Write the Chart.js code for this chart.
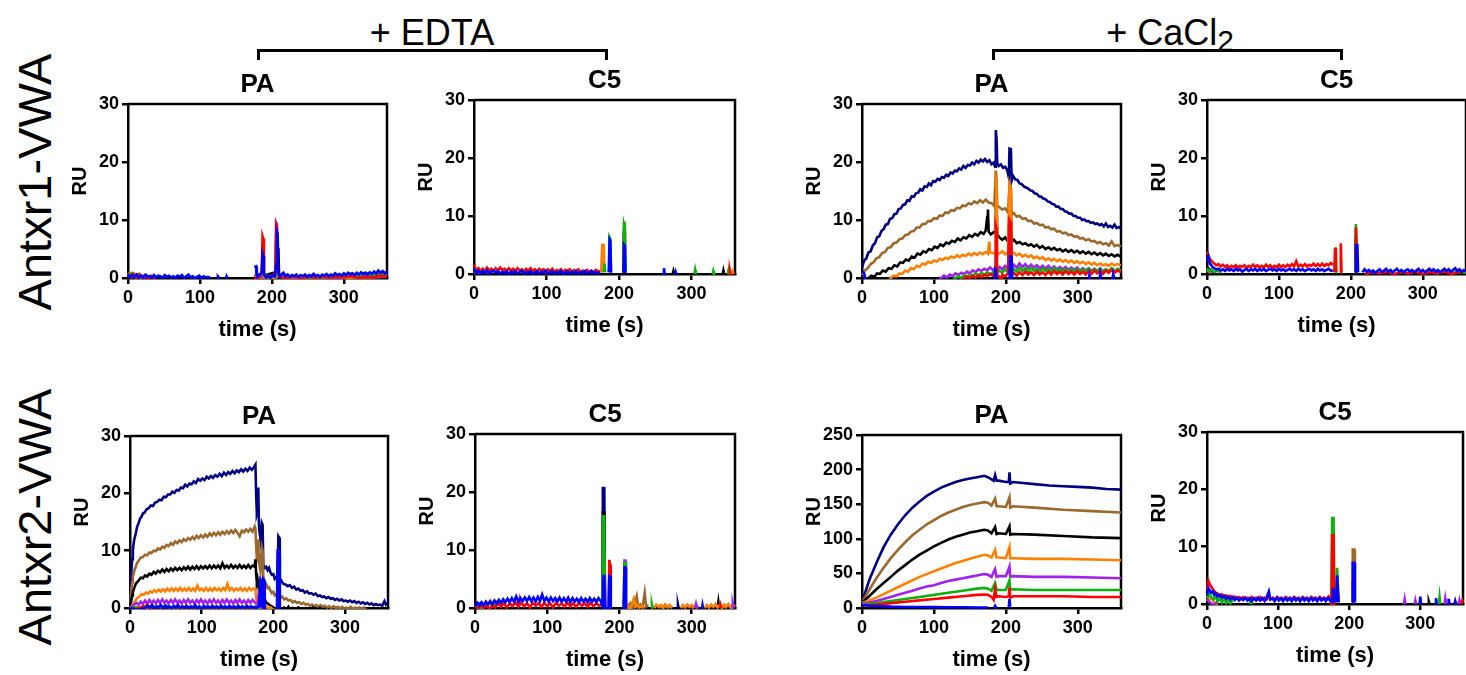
<!DOCTYPE html>
<html>
<head>
<meta charset="utf-8">
<script src="https://cdn.jsdelivr.net/npm/chart.js@4.4.1/dist/chart.umd.min.js"></script>
<style>
  body { margin: 0; background: #fff; width: 1466px; height: 675px; overflow: hidden; position: relative;
         font-family: 'Liberation Sans', Arial, sans-serif; color: #000; }
  .pane { position: absolute; }
  .rowlabel { position: absolute; width: 320px; height: 56px; line-height: 56px; text-align: center;
              font-size: 47px; transform: rotate(-90deg); white-space: nowrap; }
  .group { position: absolute; width: 300px; height: 44px; line-height: 44px; text-align: center; font-size: 36px; white-space: nowrap; }
  .group sub { font-size: 30px; vertical-align: -6px; }
  .bracket { position: absolute; height: 11px; box-sizing: border-box; border: 3px solid #000; border-bottom: none; }
</style>
</head>
<body>
<div class="rowlabel" style="left:-125px; top:154px;">Antxr1-VWA</div>
<div class="rowlabel" style="left:-125px; top:489px;">Antxr2-VWA</div>
<div class="group" style="left:282px; top:11px;">+ EDTA</div>
<div class="group" style="left:1020px; top:11px;">+ CaCl<sub>2</sub></div>
<div class="bracket" style="left:257px; top:49px; width:351px;"></div>
<div class="bracket" style="left:992px; top:49px; width:351px;"></div>

<script>
// series colours, first one is drawn on top
var seriesNames = ['blue', 'red', 'green', 'purple', 'orange', 'black', 'brown', 'navy'];
var seriesColors = ['#0000ff', '#ff0000', '#10b010', '#a020f0', '#ff8000', '#000000', '#9b682e', '#000080'];
var xTicks = [0, 100, 200, 300];

// ---- Antxr1-VWA, + EDTA, PA  ([time s, RU])
var p1_blue = [[0,0.6],[3,0.1],[6,0.5],[9,0.2],[12,0.6],[15,0.0],[18,0.4],[21,0.1],[24,0.5],[27,0.2],[30,0.3],[33,0.0],[36,0.5],[39,0.1],[42,0.4],[45,0.3],[48,0.0],[51,0.5],[54,0.2],[57,0.4],[60,0.1],[63,0.3],[66,0.0],[69,0.4],[72,0.2],[75,0.5],[78,0.0],[81,0.3],[84,0.6],[87,0.1],[90,0.3],[93,0.0],[96,0.2],[99,0.4],[102,0.0],[105,0.3],[108,0.1],[111,0.2],[114,0.0],[116,null],[124,0.0],[125,0.3],[127,0.0],[128,null],[136,0.0],[137,0.3],[138,0.0],[139,null],[176,2.0],[178,1.9],[180,0.2],[183,0.6],[186,0.9],[187,4.2],[188,3.8],[189,0.8],[192,0.1],[195,0.4],[198,0.0],[201,0.5],[204,0.3],[206,2.5],[207,8.0],[208,7.6],[209,1.0],[211,0.2],[213,0.6],[216,0.9],[219,0.3],[222,0.6],[225,0.2],[228,0.5],[231,0.3],[234,0.6],[237,0.2],[240,0.5],[243,0.3],[246,0.6],[249,0.2],[252,0.5],[255,0.3],[258,0.7],[261,0.3],[264,0.5],[267,0.2],[270,0.6],[273,0.4],[276,0.7],[279,0.3],[282,0.6],[285,0.4],[288,0.8],[291,0.5],[294,0.7],[297,0.4],[300,0.8],[303,0.5],[306,0.9],[309,0.6],[312,0.8],[315,0.5],[318,0.9],[321,0.6],[324,1.0],[327,0.7],[330,0.9],[333,0.6],[336,1.0],[339,0.7],[342,1.1],[345,0.8],[348,1.3],[351,0.9],[354,1.2],[357,0.8],[360,1.1]];
var p1_red = [[0,0.8],[4,0.2],[8,0.7],[12,-0.2],[16,0.6],[20,0.1],[24,0.5],[28,-0.1],[32,0.4],[36,0.0],[40,0.3],[45,null],[176,0.3],[180,-0.2],[184,0.5],[186,1.0],[187,7.2],[188,6.8],[189,0.5],[193,0.2],[200,0.4],[205,0.9],[206,9.0],[207,8.6],[208,0.8],[212,0.3],[220,-0.1],[230,0.3],[240,0.0],[250,0.4],[260,0.1],[270,0.3],[280,0.0],[290,0.2],[300,0.1],[310,0.3],[320,0.0],[330,0.2],[340,0.1],[350,0.4],[360,0.2]];
var p1_green = [[0,0.5],[5,0.9],[10,0.3],[15,0.7],[20,0.2],[25,0.6],[30,0.1],[35,null],[176,0.4],[186,0.6],[187,5.5],[188,0.5],[200,0.3],[205,0.4],[206,7.5],[207,0.6],[215,0.2],[300,0.4],[310,0.8],[320,0.3],[330,0.9],[340,0.4],[350,0.8],[360,0.5]];
var p1_purple = [[0,0.3],[6,0.7],[12,0.1],[18,0.5],[24,0.0],[30,null],[176,0.2],[186,0.3],[187,4.0],[188,0.3],[205,0.3],[206,9.5],[207,9.2],[208,0.5],[230,0.1],[260,0.3],[290,0.0],[320,0.5],[340,0.2],[360,0.4]];
var p1_orange = [[0,0.9],[5,0.2],[10,0.6],[15,-0.3],[20,0.4],[25,null],[176,-0.5],[180,0.2],[186,0.2],[187,3.0],[188,0.2],[205,0.1],[206,6.0],[207,0.4],[220,0.0],[260,0.2],[300,0.0],[360,0.3]];
var p1_black = [[0,0.4],[10,0.1],[20,0.3],[30,null],[176,0.5],[186,0.4],[187,2.0],[188,0.4],[205,1.0],[207,5.1],[209,5.0],[210,0.3],[240,0.1],[280,0.2],[320,0.0],[340,0.3],[360,0.1]];
var p1_brown = [[0,0.2],[8,0.6],[16,-0.4],[24,0.3],[30,null],[176,-0.8],[180,0.1],[186,0.0],[187,2.5],[188,0.0],[205,0.1],[206,4.0],[207,0.2],[240,0.1],[300,0.0],[360,0.2]];
var p1_navy = [[176,1.9],[178,2.0],[179,0.3],[186,0.2],[187,3.0],[188,0.2],[206,0.2],[207,3.5],[208,0.3],[260,0.0],[360,0.1]];

// ---- Antxr1-VWA, + EDTA, C5
var p2_blue = [[0,1.0],[3,0.2],[6,0.6],[9,0.1],[12,0.5],[15,0.2],[18,0.7],[21,0.1],[24,0.4],[27,0.6],[30,0.2],[33,0.5],[36,0.1],[39,0.4],[42,0.2],[45,0.5],[48,0.0],[51,0.4],[54,0.2],[57,0.5],[60,0.1],[63,0.3],[66,0.6],[69,0.1],[72,0.4],[75,0.2],[78,0.5],[81,0.0],[84,0.3],[87,0.5],[90,0.1],[93,0.4],[96,0.2],[99,0.6],[102,0.1],[105,0.3],[108,0.5],[111,0.1],[114,0.4],[117,0.2],[120,0.5],[123,0.0],[126,0.3],[129,0.5],[132,0.1],[135,0.4],[138,0.2],[141,0.5],[144,0.1],[147,0.4],[150,0.2],[153,0.5],[156,0.1],[159,0.3],[162,0.5],[165,0.2],[168,0.4],[171,0.1],[174,0.3],[176,null],[186,0.3],[187,6.0],[188,5.8],[189,0.2],[190,null],[206,0.2],[207,5.0],[208,4.8],[209,0.2],[210,null],[261,0.0],[262,1.0],[263,0.0],[264,null],[277,0.0],[278,0.4],[279,0.0],[280,null]];
var p2_red = [[0,1.6],[3,0.6],[6,1.0],[9,0.4],[12,0.9],[15,0.5],[18,1.1],[21,0.6],[24,0.9],[27,0.5],[30,1.0],[33,0.6],[36,1.1],[39,0.7],[42,0.9],[45,0.5],[48,1.0],[51,0.6],[54,0.9],[57,0.5],[60,1.0],[63,0.6],[66,0.8],[69,0.4],[72,0.9],[75,0.6],[78,1.0],[81,0.5],[84,0.8],[87,0.4],[90,0.9],[93,0.6],[96,0.8],[99,0.3],[102,0.8],[105,0.5],[108,0.9],[111,0.4],[114,0.7],[117,0.5],[120,0.8],[123,0.3],[126,0.7],[129,0.5],[132,0.8],[135,0.4],[138,0.7],[141,0.5],[144,0.8],[147,0.3],[150,0.6],[153,0.4],[156,0.7],[159,0.4],[162,0.6],[165,0.3],[168,0.7],[171,0.5],[174,0.4],[176,null],[352,0.0],[353,0.6],[354,0.0],[355,null]];
var p2_green = [[0,0.3],[10,0.7],[20,0.2],[30,null],[179,0.3],[180,1.8],[181,0.3],[182,null],[186,0.3],[187,6.3],[188,6.0],[189,0.3],[190,null],[206,0.3],[207,8.5],[208,8.0],[209,0.3],[210,null],[304,0.0],[305,0.7],[306,0.0],[307,null],[329,0.0],[330,0.5],[331,0.0],[332,null],[350,0.0],[351,0.6],[352,0.0],[353,null]];
var p2_purple = [[0,0.2],[10,0.5],[20,null],[206,0.3],[207,7.0],[208,0.3],[209,null]];
var p2_orange = [[0,0.5],[10,0.2],[20,null],[176,0.3],[177,5.0],[179,5.0],[180,0.3],[181,null],[206,0.3],[207,6.5],[208,0.3],[209,null],[355,0.0],[357,0.5],[358,0.0],[359,null]];
var p2_black = [[206,0.3],[207,7.5],[208,0.3],[209,null],[274,0.0],[275,0.5],[276,0.0],[277,null],[343,0.0],[344,0.6],[345,0.0],[346,null]];
var p2_brown = [[176,0.3],[177,5.2],[178,0.3],[179,null],[206,0.3],[207,9.0],[208,0.3],[209,null]];
var p2_navy = [[206,0.3],[207,6.0],[208,0.3],[209,null]];

// ---- Antxr1-VWA, + CaCl2, PA
var p3_blue = [[0,1.2],[3,0.8],[5,-0.5],[6,null],[184,-0.5],[185,1.5],[186,1.3],[187,-0.5],[188,null],[205,-0.5],[206,3.7],[208,3.7],[209,-0.5],[210,null],[315,-0.3],[316,0.4],[317,-0.3],[318,null],[330,-0.3],[331,0.6],[332,-0.3],[333,null],[348,-0.3],[349,0.5],[350,-0.3],[351,null]];
var p3_red = [[0,-6],[130,-1.0],[142,0.0],[146,0.3],[150,0.0],[154,0.4],[158,0.1],[162,0.5],[166,0.2],[170,0.6],[174,0.3],[178,0.7],[182,0.4],[185,0.6],[186,9.0],[187,8.5],[188,0.5],[191,0.2],[193,-1.0],[195,0.6],[199,0.3],[203,0.8],[205,10.0],[207,9.5],[208,0.6],[211,0.9],[215,0.4],[219,1.0],[223,0.5],[227,1.1],[231,0.6],[235,1.0],[239,0.5],[243,1.1],[247,0.6],[251,1.0],[255,0.5],[259,1.1],[263,0.6],[267,1.2],[271,0.7],[275,1.1],[279,0.6],[283,1.2],[287,0.7],[291,1.1],[295,0.6],[299,1.2],[303,0.7],[307,1.1],[311,0.6],[315,1.2],[319,0.7],[323,1.3],[327,0.8],[331,1.2],[335,0.7],[339,1.3],[343,0.9],[347,1.4],[351,0.9],[355,1.3],[360,1.0]];
var p3_green = [[0,-5],[120,-1.0],[130,0.0],[134,0.3],[138,0.0],[142,0.5],[146,0.2],[150,0.6],[154,0.3],[158,0.8],[162,0.4],[166,0.9],[170,0.5],[174,1.0],[178,0.6],[182,1.0],[185,0.8],[186,3.2],[187,0.8],[191,1.3],[195,0.9],[199,1.5],[203,1.0],[205,5.5],[207,5.0],[208,1.1],[211,1.6],[215,1.1],[219,1.8],[223,1.2],[227,1.7],[231,1.1],[235,1.8],[239,1.2],[243,1.6],[247,1.1],[251,1.7],[255,1.2],[259,1.6],[263,1.1],[267,1.7],[271,1.2],[275,1.6],[279,1.1],[283,1.6],[287,1.0],[291,1.5],[295,1.1],[299,1.6],[303,1.0],[307,1.5],[311,1.1],[315,1.6],[319,1.0],[323,1.5],[327,1.1],[331,1.6],[335,1.0],[339,1.5],[343,1.2],[347,1.7],[351,1.1],[355,1.6],[360,1.3]];
var p3_purple = [[0,-4],[100,-1.0],[110,0.0],[114,0.4],[118,0.1],[122,0.6],[126,0.3],[130,0.8],[134,0.5],[138,0.9],[142,0.7],[146,1.1],[150,0.8],[154,1.3],[158,1.0],[162,1.5],[166,1.2],[170,1.6],[174,1.3],[178,1.8],[182,1.4],[185,1.6],[186,4.0],[187,1.5],[191,1.9],[195,1.5],[199,2.1],[203,1.7],[205,7.0],[207,6.8],[208,1.8],[211,2.3],[215,1.8],[219,2.5],[223,1.9],[227,2.4],[231,1.8],[235,2.3],[239,1.8],[243,2.2],[247,1.7],[251,2.1],[255,1.6],[259,2.1],[263,1.6],[267,2.0],[271,1.5],[275,1.9],[279,1.5],[283,1.9],[287,1.4],[291,1.8],[295,1.4],[299,1.8],[303,1.3],[307,1.7],[311,1.3],[315,1.7],[319,1.2],[323,1.6],[327,1.2],[331,1.6],[335,1.2],[339,1.5],[343,1.1],[347,1.5],[351,1.1],[355,1.5],[360,1.2]];
var p3_orange = [[0,-2.0],[20,-1.6],[35,-0.8],[40,0.0],[44,0.4],[48,0.3],[52,0.8],[56,0.7],[60,1.3],[64,1.1],[68,1.7],[72,1.5],[76,2.1],[80,1.9],[84,2.5],[88,2.3],[92,2.8],[96,2.6],[100,3.0],[104,2.8],[108,3.3],[112,3.1],[116,3.5],[120,3.3],[124,3.7],[128,3.5],[132,3.9],[136,3.6],[140,4.0],[144,3.8],[148,4.2],[152,3.9],[156,4.3],[160,4.0],[164,4.4],[168,4.1],[172,4.5],[175,4.2],[177,6.3],[178,4.4],[182,4.3],[185,4.2],[186,17.0],[187,16.5],[188,4.5],[191,4.2],[195,4.6],[199,4.1],[203,4.3],[205,16.0],[207,15.0],[208,4.2],[211,4.4],[215,3.9],[219,4.2],[223,3.7],[227,4.0],[231,3.6],[235,3.9],[239,3.4],[243,3.7],[247,3.3],[251,3.6],[255,3.1],[259,3.4],[263,3.0],[267,3.3],[271,2.9],[275,3.2],[279,2.8],[283,3.1],[287,2.7],[291,3.0],[295,2.6],[299,2.9],[303,2.5],[307,2.8],[311,2.4],[315,2.7],[319,2.3],[323,2.6],[327,2.2],[331,2.5],[335,2.2],[339,2.4],[343,2.1],[347,2.5],[351,2.2],[355,2.4],[360,2.2]];
var p3_black = [[0,-1.0],[5,-0.8],[9,0.0],[13,0.4],[17,0.2],[21,0.8],[25,0.7],[29,1.3],[33,1.1],[37,1.7],[41,1.6],[45,2.2],[49,2.0],[53,2.7],[57,2.6],[61,3.2],[65,3.0],[69,3.7],[73,3.5],[77,4.2],[81,4.0],[85,4.6],[89,4.4],[93,5.0],[97,4.8],[101,5.4],[105,5.2],[109,5.8],[113,5.5],[117,6.1],[121,5.9],[125,6.4],[129,6.2],[133,6.8],[137,6.5],[141,7.0],[145,6.8],[149,7.4],[153,7.1],[157,7.6],[161,7.3],[165,7.9],[169,7.6],[172,8.2],[174,10.5],[175,11.8],[176,8.0],[179,7.5],[183,7.9],[185,8.0],[186,14.0],[187,13.5],[188,7.5],[191,7.0],[195,6.6],[199,7.0],[203,6.3],[205,11.8],[207,11.5],[208,6.2],[211,6.6],[215,6.0],[219,6.2],[223,5.8],[227,6.0],[231,5.6],[235,5.8],[239,5.4],[243,5.7],[247,5.2],[251,5.5],[255,5.0],[259,5.3],[263,4.9],[267,5.2],[271,4.8],[275,5.0],[279,4.6],[283,4.9],[287,4.5],[291,4.8],[295,4.4],[299,4.7],[303,4.3],[307,4.6],[311,4.2],[315,4.5],[319,4.1],[323,4.4],[327,4.0],[331,4.3],[335,3.9],[339,4.2],[343,3.8],[347,4.1],[351,3.7],[355,4.0],[360,3.7]];
var p3_brown = [[0,0.5],[4,1.3],[8,1.7],[12,2.4],[16,2.7],[20,3.4],[24,3.6],[28,4.3],[32,4.5],[36,5.2],[40,5.3],[44,6.0],[48,6.1],[52,6.7],[56,6.8],[60,7.4],[64,7.5],[68,8.0],[72,8.1],[76,8.7],[80,8.7],[84,9.3],[88,9.3],[92,9.8],[96,9.8],[100,10.3],[104,10.2],[108,10.8],[112,10.7],[116,11.3],[120,11.2],[124,11.7],[128,11.6],[132,12.1],[136,12.0],[140,12.5],[144,12.4],[148,12.9],[152,12.7],[156,13.2],[160,12.9],[164,13.4],[168,13.0],[172,13.5],[176,13.0],[180,12.9],[184,12.4],[186,18.5],[187,17.0],[188,12.5],[191,12.2],[195,11.8],[199,12.0],[203,11.3],[205,16.0],[207,15.5],[208,10.9],[211,11.2],[215,10.6],[219,10.7],[223,10.2],[227,10.3],[231,9.8],[235,9.9],[239,9.4],[243,9.5],[247,9.1],[251,9.2],[255,8.7],[259,8.8],[263,8.4],[267,8.5],[271,8.0],[275,8.1],[279,7.7],[283,7.8],[287,7.4],[291,7.5],[295,7.1],[299,7.2],[303,6.8],[307,6.9],[311,6.5],[315,6.7],[319,6.3],[323,6.4],[327,6.0],[331,6.2],[335,5.8],[339,6.0],[343,5.6],[347,6.3],[351,5.5],[355,5.7],[360,5.4]];
var p3_navy = [[0,1.8],[3,3.0],[6,3.4],[9,4.4],[12,4.6],[15,5.6],[18,6.0],[21,7.0],[24,7.2],[27,8.1],[30,8.4],[33,9.2],[36,9.3],[39,10.2],[42,10.3],[45,11.0],[48,11.1],[51,11.9],[54,12.0],[57,12.6],[60,12.7],[63,13.4],[66,13.3],[69,14.1],[72,14.0],[75,14.6],[78,14.7],[81,15.3],[84,15.1],[87,15.8],[90,15.7],[93,16.3],[96,16.0],[99,16.7],[102,16.6],[105,17.1],[108,16.9],[111,17.4],[114,17.3],[117,17.8],[120,17.6],[123,18.2],[126,18.0],[129,18.5],[132,18.4],[135,18.9],[138,18.7],[141,19.3],[144,19.0],[147,19.5],[150,19.4],[153,19.9],[156,19.6],[159,20.2],[162,19.9],[165,20.4],[168,20.1],[171,20.5],[174,20.0],[177,20.3],[180,19.6],[183,19.9],[185,19.2],[186,25.5],[187,24.0],[188,19.8],[190,19.3],[193,19.6],[196,19.0],[199,19.2],[202,18.5],[204,17.4],[205,22.3],[207,22.2],[208,16.8],[210,17.6],[213,17.0],[216,16.9],[219,16.3],[222,16.2],[225,15.8],[228,15.6],[231,15.4],[234,15.1],[237,15.0],[240,14.6],[243,14.5],[246,14.1],[249,14.0],[252,13.7],[255,13.6],[258,13.2],[261,13.1],[264,12.8],[267,12.7],[270,12.3],[273,12.3],[276,11.9],[279,11.9],[282,11.5],[285,11.4],[288,11.1],[291,11.1],[294,10.7],[297,10.7],[300,10.4],[303,10.4],[306,10.0],[309,10.1],[312,9.8],[315,9.8],[318,9.5],[321,9.6],[324,9.3],[327,9.4],[330,9.1],[333,9.3],[336,8.9],[339,9.4],[342,8.8],[345,9.0],[348,8.7],[351,9.2],[354,8.6],[357,8.8],[360,8.5]];

// ---- Antxr1-VWA, + CaCl2, C5
var p4_blue = [[0,2.2],[2,3.0],[4,1.8],[6,1.5],[8,1.2],[10,1.0],[13,0.8],[16,0.9],[19,0.6],[22,0.8],[25,0.5],[28,0.9],[31,0.6],[34,0.8],[37,0.5],[40,0.9],[43,0.6],[46,0.8],[49,0.4],[52,0.7],[55,0.9],[58,0.5],[61,0.8],[64,0.6],[67,0.9],[70,0.5],[73,0.8],[76,0.6],[79,0.9],[82,0.5],[85,0.7],[88,0.9],[91,0.6],[94,0.8],[97,0.5],[100,0.9],[103,0.6],[106,0.8],[109,0.5],[112,0.7],[115,0.9],[118,0.6],[121,0.8],[124,0.5],[127,0.9],[130,0.6],[133,0.8],[136,0.5],[139,0.7],[142,0.9],[145,0.6],[148,0.8],[151,0.5],[154,0.9],[157,0.6],[160,0.8],[163,0.5],[166,0.7],[169,0.9],[172,0.6],[175,0.5],[176,null],[206,0.3],[207,5.0],[209,5.0],[210,0.3],[211,null],[216,0.3],[219,0.8],[222,0.4],[225,0.7],[228,0.3],[231,0.6],[234,0.2],[237,0.5],[240,0.8],[243,0.3],[246,0.6],[249,0.9],[252,0.4],[255,0.7],[258,0.3],[261,0.6],[264,0.9],[267,0.4],[270,0.7],[273,0.3],[276,0.6],[279,0.8],[282,0.4],[285,0.7],[288,0.3],[291,0.6],[294,0.9],[297,0.4],[300,0.7],[303,0.3],[306,0.6],[309,0.9],[312,0.5],[315,0.8],[318,0.4],[321,0.7],[324,0.3],[327,0.6],[330,0.9],[333,0.5],[336,0.8],[339,0.4],[342,0.7],[345,1.0],[348,0.5],[351,0.8],[354,0.4],[357,0.7],[360,0.5]];
var p4_red = [[0,3.8],[2,3.2],[4,2.6],[6,2.3],[8,2.0],[10,1.8],[13,1.5],[16,1.7],[19,1.3],[22,1.6],[25,1.2],[28,1.5],[31,1.1],[34,1.4],[37,1.2],[40,1.5],[43,1.1],[46,1.4],[49,1.2],[52,1.5],[55,1.1],[58,1.4],[61,1.2],[64,1.6],[67,1.2],[70,1.5],[73,1.1],[76,1.4],[79,1.2],[82,1.6],[85,1.2],[88,1.5],[91,1.1],[94,1.4],[97,1.2],[100,1.6],[103,1.2],[106,1.5],[109,1.2],[112,1.6],[115,1.3],[118,1.7],[121,1.3],[124,2.2],[127,1.3],[130,1.6],[133,1.3],[136,1.7],[139,1.3],[142,1.6],[145,1.4],[148,1.8],[151,1.4],[154,1.7],[157,1.4],[160,1.8],[163,1.4],[166,1.7],[169,1.5],[172,1.9],[175,1.6],[176,null],[177,0.3],[178,4.5],[179,0.3],[180,null],[185,0.3],[186,5.3],[187,0.3],[188,null],[206,0.3],[207,8.0],[208,0.3],[209,null],[220,0.0],[230,0.3],[240,0.1],[250,0.4],[260,0.0],[270,0.3],[280,0.1],[290,0.4],[300,0.0],[310,0.3],[320,0.1],[330,0.4],[340,0.0],[350,0.3],[360,0.6]];
var p4_green = [[0,1.0],[3,0.5],[6,0.8],[10,0.3],[15,0.6],[20,0.2],[25,null],[178,0.3],[179,4.6],[180,0.3],[181,null],[206,0.3],[207,8.6],[208,0.3],[209,null],[300,0.0],[310,0.4],[320,0.1],[330,0.5],[340,0.2],[350,0.4],[360,0.2]];
var p4_purple = [[0,0.8],[5,0.3],[10,null]];
var p4_orange = [[0,0.6],[5,0.2],[10,null]];
var p4_black = [[0,1.2],[5,0.6],[10,0.3],[15,null],[206,0.3],[207,6.5],[208,0.3],[209,null]];
var p4_brown = [[206,0.3],[207,8.0],[208,0.3],[209,null]];
var p4_navy = [[206,0.3],[207,6.0],[208,0.3],[209,null]];

// ---- Antxr2-VWA, + EDTA, PA
var p5_blue = [[0,0.0],[10,-0.3],[20,0.0],[25,0.4],[28,0.1],[31,0.5],[34,0.0],[37,0.3],[40,0.1],[43,0.5],[46,0.0],[49,0.4],[52,0.1],[55,0.3],[58,0.0],[61,0.4],[64,0.1],[67,0.5],[70,0.0],[73,0.3],[76,0.1],[79,0.4],[82,0.0],[85,0.3],[88,0.1],[91,0.5],[94,0.0],[97,0.3],[100,-0.2],[103,0.4],[106,0.1],[109,0.3],[112,0.0],[115,0.4],[118,0.1],[121,0.3],[124,0.0],[127,0.4],[130,0.1],[133,0.3],[136,0.0],[139,0.4],[142,0.1],[145,0.3],[148,0.0],[151,0.4],[154,0.1],[157,0.3],[160,0.0],[163,0.4],[166,0.1],[169,0.3],[172,0.1],[175,0.2],[176,0.0],[180,0.3],[182,5.0],[183,4.8],[184,0.3],[185,0.2],[186,5.0],[187,4.8],[188,0.0],[190,-0.5],[205,-0.5],[206,10.0],[208,10.0],[209,-0.5],[220,-0.8],[360,-0.8]];
var p5_red = [[0,0.0],[10,-0.2],[18,0.3],[20,-0.1],[24,0.6],[26,0.0],[30,-0.3],[175,-0.3],[177,-0.5],[360,-0.8]];
var p5_green = [[0,0.0],[10,0.2],[15,-0.1],[20,0.3],[25,0.0],[30,0.4],[35,0.1],[40,0.3],[45,0.0],[50,0.5],[55,0.1],[60,-0.2],[80,-0.3],[175,-0.3],[178,0.3],[179,-0.5],[360,-0.8]];
var p5_purple = [[0,0.0],[3,0.3],[6,0.6],[9,0.9],[12,0.6],[15,1.1],[18,0.7],[21,1.3],[24,0.8],[27,1.4],[30,0.9],[33,1.3],[36,0.8],[39,1.4],[42,0.9],[45,1.5],[48,0.9],[51,1.3],[54,0.8],[57,1.4],[60,0.9],[63,1.5],[66,0.9],[69,1.3],[72,0.8],[75,1.4],[78,0.9],[81,1.5],[84,0.9],[87,1.3],[90,0.8],[93,1.4],[96,0.9],[99,1.5],[102,0.9],[105,1.3],[108,0.8],[111,1.4],[114,0.9],[117,1.5],[120,0.9],[123,1.3],[126,0.8],[129,1.4],[132,0.9],[135,1.5],[138,0.9],[141,1.3],[144,0.8],[147,1.4],[150,0.9],[153,1.5],[156,0.9],[159,1.3],[162,0.8],[165,1.4],[168,0.9],[171,1.4],[174,1.0],[176,0.8],[178,0.5],[180,2.9],[181,0.3],[183,0.0],[186,-0.5],[190,-0.8],[360,-1.0]];
var p5_orange = [[0,0.0],[2,0.2],[4,0.6],[6,1.0],[8,1.4],[10,1.7],[13,2.0],[16,2.4],[19,2.3],[22,2.7],[25,2.5],[28,2.9],[31,2.7],[34,3.1],[37,2.8],[40,3.2],[43,2.9],[46,3.3],[49,2.9],[52,3.4],[55,3.0],[58,3.4],[61,3.0],[64,3.4],[67,3.0],[70,3.5],[73,3.0],[76,3.4],[79,3.0],[82,3.5],[85,3.0],[88,3.4],[91,3.0],[94,3.9],[97,3.1],[100,3.4],[103,3.0],[106,3.5],[109,3.0],[112,3.4],[115,3.0],[118,3.5],[121,3.1],[124,3.4],[127,3.0],[130,3.5],[133,3.1],[136,4.2],[139,3.1],[142,3.5],[145,3.0],[148,3.4],[151,3.1],[154,3.5],[157,3.0],[160,3.4],[163,3.0],[166,3.5],[169,3.1],[172,3.4],[175,3.2],[176,2.0],[177,1.0],[178,0.5],[179,0.8],[180,-1.5],[181,3.0],[182,4.0],[183,0.5],[185,0.2],[188,0.0],[190,0.3],[193,-0.2],[196,0.1],[200,-0.3],[210,-0.5],[360,-1.0]];
var p5_black = [[0,0.0],[1,0.8],[2,1.5],[3,2.2],[4,2.8],[6,3.5],[8,4.2],[10,4.5],[12,4.8],[15,5.3],[18,5.2],[21,5.7],[24,5.5],[27,6.0],[30,5.8],[33,6.3],[36,6.0],[39,6.5],[42,6.2],[45,6.7],[48,6.3],[51,6.8],[54,6.4],[57,6.9],[60,6.5],[63,7.0],[66,6.6],[69,7.0],[72,6.6],[75,7.1],[78,6.7],[81,7.2],[84,6.7],[87,7.2],[90,6.8],[93,7.3],[96,6.8],[99,7.3],[102,6.9],[105,7.3],[108,6.9],[111,7.4],[114,6.9],[117,7.4],[120,7.0],[123,7.4],[126,6.9],[129,7.8],[132,7.0],[135,7.4],[138,7.0],[141,7.5],[144,7.0],[147,7.4],[150,7.0],[153,7.5],[156,7.0],[159,7.4],[162,7.0],[165,7.5],[168,7.0],[171,7.4],[174,7.2],[175,8.5],[176,6.0],[177,4.5],[178,5.0],[179,4.0],[180,3.0],[182,2.5],[184,3.5],[185,3.2],[186,1.8],[188,1.5],[190,1.0],[192,0.8],[194,0.6],[196,0.4],[198,0.3],[200,0.1],[202,-0.2],[204,0.0],[206,-0.5],[207,9.0],[208,8.8],[209,-0.5],[212,-0.2],[215,0.1],[218,-0.3],[221,0.2],[224,-0.4],[227,0.0],[230,-0.3],[235,0.1],[240,-0.4],[245,0.0],[250,-0.4],[255,0.1],[260,-0.5],[265,0.0],[270,-0.5],[280,-0.8],[360,-1.0]];
var p5_brown = [[0,0.0],[1,2.0],[2,3.2],[3,4.5],[4,5.5],[6,6.5],[8,7.2],[10,7.9],[12,8.2],[15,8.8],[18,8.9],[21,9.3],[24,9.2],[27,9.7],[30,9.6],[33,10.0],[36,9.9],[39,10.4],[42,10.2],[45,10.7],[48,10.5],[51,11.0],[54,10.8],[57,11.3],[60,11.0],[63,11.6],[66,11.3],[69,11.8],[72,11.5],[75,12.0],[78,11.7],[81,12.2],[84,11.9],[87,12.4],[90,12.0],[93,12.6],[96,12.2],[99,12.7],[102,12.3],[105,12.8],[108,12.4],[111,13.0],[114,12.6],[117,13.1],[120,12.7],[123,13.2],[126,12.8],[129,13.3],[132,12.9],[135,13.4],[138,13.0],[141,13.5],[144,13.1],[147,13.6],[150,13.1],[153,12.5],[156,13.5],[159,13.2],[162,13.7],[165,13.3],[168,13.8],[171,13.3],[174,14.2],[175,13.8],[176,11.0],[177,8.5],[178,9.0],[179,12.0],[180,8.0],[182,6.5],[184,10.5],[185,10.0],[186,5.5],[188,4.6],[190,4.2],[192,3.5],[194,3.6],[196,3.0],[198,2.6],[200,2.8],[202,2.2],[204,2.4],[206,2.0],[207,9.5],[208,9.3],[209,1.8],[212,2.0],[215,1.5],[218,1.7],[221,1.3],[224,1.4],[227,1.0],[230,1.2],[233,0.9],[236,1.0],[239,0.7],[242,0.9],[245,0.6],[248,0.7],[251,0.4],[254,0.6],[257,0.3],[260,0.5],[263,0.2],[266,0.5],[269,0.2],[272,0.4],[275,0.1],[278,0.3],[281,0.0],[284,0.3],[287,0.0],[290,0.2],[293,-0.1],[296,0.2],[299,-0.1],[302,0.1],[305,-0.2],[308,0.2],[311,-0.1],[314,0.1],[317,-0.2],[320,0.1],[323,-0.2],[326,0.1],[329,-0.3],[335,-0.5],[360,-0.8]];
var p5_navy = [[0,0.0],[1,4.0],[2,6.5],[3,8.5],[4,10.0],[5,11.2],[6,12.0],[8,13.0],[10,14.2],[12,14.8],[14,15.6],[16,15.9],[18,16.5],[20,16.6],[23,17.2],[26,17.4],[29,17.9],[32,17.8],[35,18.4],[38,18.5],[41,18.9],[44,18.8],[47,19.4],[50,19.3],[53,19.8],[56,19.8],[59,20.3],[62,20.1],[65,20.6],[68,20.5],[71,21.0],[74,20.9],[77,21.5],[80,21.2],[83,21.7],[86,21.6],[89,22.1],[92,21.8],[95,22.5],[98,22.2],[101,22.6],[104,22.3],[107,22.9],[110,22.6],[113,23.0],[116,22.7],[119,23.2],[122,22.9],[125,23.4],[128,23.0],[131,23.6],[134,23.2],[137,23.7],[140,23.4],[143,23.9],[146,23.5],[149,24.0],[152,23.7],[155,24.2],[158,23.8],[161,24.3],[164,23.9],[167,24.5],[170,24.1],[173,24.6],[175,25.0],[176,20.0],[177,16.5],[178,17.0],[179,21.0],[180,14.0],[182,12.0],[184,14.8],[185,14.5],[186,7.5],[188,7.0],[190,7.2],[192,6.6],[194,7.0],[196,6.2],[198,5.8],[200,5.9],[202,5.1],[204,5.4],[206,4.9],[207,12.5],[208,12.3],[209,4.6],[211,4.8],[214,4.2],[217,4.1],[220,3.8],[223,4.0],[226,3.5],[229,3.7],[232,3.2],[235,3.4],[238,3.0],[241,3.1],[244,2.7],[247,2.9],[250,2.5],[253,2.6],[256,2.3],[259,2.5],[262,2.1],[265,2.2],[268,1.9],[271,2.0],[274,1.7],[277,1.9],[280,1.6],[283,1.7],[286,1.4],[289,1.6],[292,1.3],[295,1.5],[298,1.2],[301,1.3],[304,1.1],[307,1.3],[310,1.0],[313,1.2],[316,0.9],[319,1.1],[322,0.8],[325,1.0],[328,0.7],[331,0.9],[334,0.6],[337,0.8],[340,0.5],[343,0.7],[346,0.5],[349,0.6],[352,0.4],[355,1.2],[357,0.6],[360,0.9]];

// ---- Antxr2-VWA, + EDTA, C5
var p6_blue = [[0,0.3],[3,0.9],[6,0.4],[9,1.0],[12,0.5],[15,1.1],[18,0.6],[21,1.2],[24,0.7],[27,1.3],[30,0.8],[33,1.4],[36,0.9],[39,1.5],[42,1.0],[45,1.6],[48,1.0],[51,1.7],[54,1.1],[57,2.0],[60,1.1],[63,1.7],[66,1.2],[69,1.8],[72,1.2],[75,1.9],[78,1.2],[81,1.8],[84,1.1],[87,1.9],[90,1.2],[93,2.3],[96,1.2],[99,1.8],[102,1.1],[105,1.8],[108,1.2],[111,1.7],[114,1.1],[117,1.8],[120,1.1],[123,1.7],[126,1.1],[129,1.8],[132,1.0],[135,1.7],[138,1.1],[141,1.6],[144,1.0],[147,1.7],[150,1.1],[153,1.6],[156,1.0],[159,1.7],[162,1.1],[165,1.6],[168,1.0],[171,1.7],[174,1.2],[176,0.5],[177,0.3],[178,5.5],[179,5.5],[180,0.3],[181,-0.5],[185,-0.3],[186,5.5],[187,5.5],[188,-0.3],[189,null],[206,-0.3],[207,7.0],[208,7.0],[209,-0.3],[210,null],[314,-0.2],[315,0.5],[316,-0.2],[317,null]];
var p6_red = [[0,0.5],[4,-0.2],[8,0.6],[12,0.0],[16,0.7],[20,-0.3],[24,0.6],[28,0.1],[32,0.8],[36,0.2],[40,0.9],[44,0.1],[48,0.8],[52,0.3],[56,1.0],[60,0.2],[64,0.9],[68,0.3],[72,0.8],[76,0.1],[80,0.9],[84,0.4],[88,0.8],[92,0.2],[96,0.9],[100,0.3],[104,0.8],[108,0.1],[112,0.9],[116,0.4],[120,0.8],[124,0.2],[128,0.9],[132,0.3],[136,0.8],[140,0.2],[144,0.9],[148,0.4],[152,0.8],[156,0.2],[160,0.9],[164,0.3],[168,0.8],[172,0.4],[175,0.6],[177,null],[185,0.3],[186,8.3],[187,7.5],[188,0.3],[189,null],[339,0.0],[340,0.5],[341,0.0],[342,null]];
var p6_green = [[0,0.2],[5,0.8],[10,-0.3],[15,0.6],[20,0.9],[25,0.3],[30,1.0],[35,0.5],[40,null],[176,0.3],[177,15.8],[179,15.8],[180,-1.0],[181,null],[206,0.3],[207,7.8],[208,7.8],[209,0.3],[210,null],[244,0.0],[245,0.6],[246,0.0],[247,null]];
var p6_purple = [[0,0.3],[8,0.9],[16,0.3],[24,null],[60,0.5],[62,1.6],[64,0.5],[65,null],[206,0.3],[207,8.2],[208,8.2],[209,0.3],[210,null],[305,0.0],[306,0.6],[307,0.0],[308,null],[356,0.0],[357,0.6],[358,0.0],[359,null]];
var p6_orange = [[0,0.4],[10,0.8],[20,null],[208,0.0],[211,0.5],[214,-0.5],[217,0.6],[220,1.6],[222,0.2],[225,0.5],[228,0.1],[231,0.4],[234,0.0],[237,null],[248,0.0],[251,0.6],[254,0.2],[257,0.5],[260,0.1],[263,0.6],[266,0.2],[269,0.5],[272,0.0],[275,null],[285,0.0],[288,0.5],[291,0.1],[294,0.6],[297,0.2],[300,0.5],[303,0.0],[306,null],[318,0.0],[321,0.5],[324,0.1],[327,0.6],[330,0.2],[333,0.7],[336,0.1],[339,0.5],[342,0.0],[345,0.6],[348,0.2],[351,0.7],[354,0.1],[357,0.6],[360,0.3]];
var p6_black = [[176,0.3],[177,16.5],[179,16.5],[180,0.3],[181,null],[205,0.3],[206,1.5],[207,0.3],[208,null],[336,0.0],[337,1.0],[338,0.0],[339,null]];
var p6_brown = [[0,0.5],[10,0.3],[20,null],[210,0.0],[215,0.8],[218,0.1],[221,0.6],[224,2.0],[226,0.2],[229,0.6],[232,0.1],[235,2.6],[237,0.2],[240,0.5],[245,null],[255,0.0],[258,0.4],[261,0.0],[264,0.5],[267,0.1],[270,0.4],[273,0.0],[276,null],[300,0.0],[305,0.4],[310,0.1],[315,null],[345,0.0],[350,0.5],[355,0.1],[360,0.4]];
var p6_navy = [[176,0.3],[177,20.7],[179,20.7],[180,0.3],[181,null],[280,0.0],[281,0.6],[282,0.0],[283,null]];

// ---- Antxr2-VWA, + CaCl2, PA
var p7_blue = [[0,4],[20,3],[40,2],[60,1.5],[80,1.5],[100,1.2],[120,1],[140,1],[160,0.8],[175,0.8],[176,null],[184,1],[185,3],[186,1],[187,null],[204,1],[205,13],[206,2],[207,null]];
var p7_red = [[0,4],[20,5],[40,7],[60,9],[80,11],[100,13],[120,15],[140,17],[160,19],[170,19.5],[175,19],[180,16],[183,12],[185,28],[187,16],[190,17],[200,16],[204,17],[205,30],[206,15],[210,17],[240,17],[280,17],[320,16],[360,16]];
var p7_green = [[0,5],[20,7],[40,10],[60,13],[80,16],[100,19],[120,22],[140,25],[160,28],[170,29],[175,28],[180,25],[185,36],[187,26],[190,26],[200,26],[205,40],[206,26],[210,27],[240,26],[280,26],[320,26],[360,26]];
var p7_purple = [[0,6],[10,8],[20,10],[30,13],[40,16],[50,19],[60,22],[70,25],[80,28],[90,31],[100,33],[110,36],[120,39],[130,41],[140,43],[150,45],[160,47],[170,49],[175,48],[180,45],[185,56],[187,45],[190,46],[200,46],[205,60],[206,45],[210,46],[240,45],[280,45],[320,44],[360,43]];
var p7_orange = [[0,7],[10,11],[20,15],[30,20],[40,25],[50,30],[60,35],[70,40],[80,45],[90,49],[100,53],[110,57],[120,61],[130,65],[140,68],[150,71],[160,74],[170,77],[175,76],[180,73],[185,84],[187,73],[190,73],[200,72],[205,88],[206,72],[210,72],[240,71],[280,71],[320,70],[360,69]];
var p7_black = [[0,8],[10,17],[20,27],[30,36],[40,45],[50,54],[60,62],[70,70],[80,77],[90,83],[100,89],[110,94],[120,99],[130,103],[140,106],[150,109],[160,111],[170,113],[175,112],[180,108],[185,117],[187,107],[190,108],[200,107],[205,118],[206,106],[210,107],[240,106],[280,104],[320,102],[360,101]];
var p7_brown = [[0,8],[10,26],[20,43],[30,58],[40,72],[50,84],[60,95],[70,105],[80,113],[90,121],[100,127],[110,133],[120,138],[130,142],[140,146],[150,149],[160,151],[170,153],[175,152],[180,148],[185,158],[187,147],[190,147],[200,146],[205,160],[206,145],[210,147],[240,145],[280,142],[320,140],[360,138]];
var p7_navy = [[0,8],[10,40],[20,65],[30,88],[40,106],[50,121],[60,134],[70,145],[80,154],[90,162],[100,168],[110,174],[120,178],[130,182],[140,185],[150,187],[160,189],[170,191],[175,189],[180,186],[183,184],[185,192],[187,184],[190,184],[200,182],[204,182],[205,196],[206,180],[210,182],[220,181],[240,179],[260,177],[280,176],[300,175],[320,174],[340,172],[360,171]];

// ---- Antxr2-VWA, + CaCl2, C5
var p8_blue = [[0,1.5],[2,2.8],[4,2.3],[6,2.0],[8,2.2],[10,1.6],[12,1.9],[15,1.3],[18,1.6],[21,1.1],[24,1.4],[27,0.9],[30,1.3],[33,0.8],[36,1.2],[39,0.7],[42,1.1],[45,0.6],[48,1.0],[51,0.7],[54,1.1],[57,0.6],[60,1.0],[63,0.5],[66,1.0],[69,0.6],[72,1.1],[75,0.6],[78,1.0],[81,0.5],[84,1.2],[87,2.2],[89,0.8],[92,1.0],[95,0.5],[98,1.1],[101,0.6],[104,1.0],[107,0.5],[110,1.1],[113,0.6],[116,1.0],[119,0.5],[122,1.1],[125,0.6],[128,1.0],[131,0.5],[134,1.1],[137,0.6],[140,1.0],[143,0.5],[146,1.1],[149,0.6],[152,1.0],[155,0.5],[158,1.1],[161,0.6],[164,1.0],[167,0.5],[170,1.1],[173,0.6],[175,0.8],[176,0.3],[177,2.5],[178,2.5],[179,0.3],[180,null],[182,0.3],[183,5.0],[184,5.0],[185,0.3],[186,null],[204,0.3],[205,7.2],[207,7.2],[208,0.3],[209,null],[299,0.0],[300,1.3],[301,0.0],[302,null],[321,0.0],[322,1.0],[323,0.0],[324,null],[339,0.0],[340,0.9],[341,0.0],[342,null],[348,0.0],[349,0.5],[350,0.0],[351,null]];
var p8_red = [[0,2.5],[2,4.0],[4,3.4],[6,3.0],[8,2.6],[10,2.3],[12,2.0],[15,1.8],[18,1.5],[21,1.7],[24,1.3],[27,1.5],[30,1.2],[33,1.4],[36,1.0],[39,1.3],[42,1.0],[45,1.2],[48,0.9],[51,1.2],[54,0.9],[57,1.1],[60,0.8],[63,1.2],[66,0.9],[69,1.1],[72,0.8],[75,1.2],[78,0.9],[81,1.1],[84,0.8],[87,1.2],[90,0.9],[93,1.1],[96,0.8],[99,1.2],[102,0.9],[105,1.1],[108,0.8],[111,1.2],[114,0.9],[117,1.1],[120,0.8],[123,1.2],[126,0.9],[129,1.1],[132,0.8],[135,1.2],[138,0.9],[141,1.1],[144,0.8],[147,1.2],[150,0.9],[153,1.1],[156,0.8],[159,1.2],[162,0.9],[165,1.1],[168,0.8],[171,1.3],[174,0.9],[175,-1.0],[176,12.0],[178,12.0],[179,-1.0],[180,null],[182,0.3],[183,3.5],[184,3.5],[185,0.3],[186,null],[357,0.0],[359,0.6],[360,0.2]];
var p8_green = [[0,1.0],[3,2.0],[6,1.2],[9,0.8],[12,1.3],[15,0.5],[18,1.0],[21,0.3],[24,0.9],[27,0.2],[30,0.8],[33,0.1],[36,0.7],[39,null],[60,0.0],[62,0.8],[64,0.0],[65,null],[175,0.3],[176,15.0],[178,15.0],[179,0.3],[180,null],[182,0.3],[183,6.3],[184,6.3],[185,0.3],[186,null],[326,0.0],[327,1.2],[328,0.0],[329,null]];
var p8_purple = [[0,0.8],[5,0.2],[10,-0.3],[15,0.5],[20,null],[277,0.0],[278,0.8],[279,0.0],[280,null],[292,0.0],[293,0.6],[294,0.0],[295,null],[334,0.0],[335,0.9],[336,0.0],[337,null],[354,0.0],[355,0.6],[356,0.0],[357,null]];
var p8_orange = [[0,0.5],[5,1.2],[10,0.3],[15,-0.3],[20,null],[176,0.3],[177,1.0],[178,0.3],[179,null]];
var p8_black = [[311,0.0],[312,0.4],[313,0.0],[314,null]];
var p8_brown = [[204,0.3],[205,9.5],[207,9.5],[208,0.3],[209,null]];
var p8_navy = [[204,0.3],[205,4.0],[206,0.3],[207,null]];

// panel layout: plot-area box in page pixels
var panels = [
  { L: 128, T: 104, R: 387, B: 278, title: 'PA', ymax: 30, ystep: 10, data: [p1_blue, p1_red, p1_green, p1_purple, p1_orange, p1_black, p1_brown, p1_navy] },
  { L: 474, T: 100, R: 735, B: 274, title: 'C5', ymax: 30, ystep: 10, data: [p2_blue, p2_red, p2_green, p2_purple, p2_orange, p2_black, p2_brown, p2_navy] },
  { L: 862, T: 104, R: 1121, B: 278, title: 'PA', ymax: 30, ystep: 10, data: [p3_blue, p3_red, p3_green, p3_purple, p3_orange, p3_black, p3_brown, p3_navy] },
  { L: 1207, T: 100, R: 1466, B: 274, title: 'C5', ymax: 30, ystep: 10, data: [p4_blue, p4_red, p4_green, p4_purple, p4_orange, p4_black, p4_brown, p4_navy] },
  { L: 130, T: 436, R: 388, B: 608, title: 'PA', ymax: 30, ystep: 10, data: [p5_blue, p5_red, p5_green, p5_purple, p5_orange, p5_black, p5_brown, p5_navy] },
  { L: 475, T: 434, R: 735, B: 608, title: 'C5', ymax: 30, ystep: 10, data: [p6_blue, p6_red, p6_green, p6_purple, p6_orange, p6_black, p6_brown, p6_navy] },
  { L: 862, T: 435, R: 1121, B: 608, title: 'PA', ymax: 250, ystep: 50, data: [p7_blue, p7_red, p7_green, p7_purple, p7_orange, p7_black, p7_brown, p7_navy] },
  { L: 1207, T: 432, R: 1463, B: 604, title: 'C5', ymax: 30, ystep: 10, data: [p8_blue, p8_red, p8_green, p8_purple, p8_orange, p8_black, p8_brown, p8_navy] }
];

var YW = 58, TH = 32, XH = 63, PR = 6;

Chart.defaults.font.family = "'Liberation Sans', Arial, sans-serif";
Chart.defaults.color = '#000';

// top + right sides of the box
var framePlugin = {
  id: 'frame',
  beforeDatasetsDraw: function (chart) {
    var a = chart.chartArea, ctx = chart.ctx;
    ctx.save();
    ctx.strokeStyle = '#000';
    ctx.lineWidth = 2.5;
    ctx.beginPath();
    ctx.moveTo(a.left, a.top);
    ctx.lineTo(a.right, a.top);
    ctx.lineTo(a.right, a.bottom);
    ctx.stroke();
    ctx.restore();
  }
};

panels.forEach(function (p) {
  var div = document.createElement('div');
  div.className = 'pane';
  var w = (p.R - p.L) + YW + PR, h = (p.B - p.T) + TH + XH;
  div.style.left = (p.L - YW) + 'px';
  div.style.top = (p.T - TH) + 'px';
  div.style.width = w + 'px';
  div.style.height = h + 'px';
  var canvas = document.createElement('canvas');
  canvas.width = w;
  canvas.height = h;
  div.appendChild(canvas);
  document.body.appendChild(div);

  var datasets = p.data.map(function (pts, i) {
    return {
      label: seriesNames[i],
      data: pts,
      borderColor: seriesColors[i],
      borderWidth: 2.6,
      pointRadius: 0,
      tension: 0,
      spanGaps: false,
      clip: 1
    };
  });

  new Chart(canvas, {
    type: 'line',
    data: { datasets: datasets },
    options: {
      responsive: false,
      animation: false,
      devicePixelRatio: 1,
      layout: { padding: { left: 0, right: PR, top: 0, bottom: 0 } },
      plugins: {
        legend: { display: false },
        tooltip: { enabled: false },
        title: {
          display: true, text: p.title, fullSize: false, color: '#000',
          font: { size: 26, weight: 'bold', lineHeight: 1 },
          padding: { top: 0, bottom: 6 }
        }
      },
      scales: {
        x: {
          type: 'linear', min: 0, max: 360,
          afterFit: function (s) { s.height = XH; },
          afterBuildTicks: function (s) { s.ticks = xTicks.map(function (v) { return { value: v }; }); },
          border: { color: '#000', width: 2.5 },
          grid: { drawOnChartArea: false, tickLength: 6, color: '#000', lineWidth: 2.5 },
          ticks: { maxRotation: 0, padding: 3, color: '#000', font: { size: 18, weight: 'bold' } },
          title: { display: true, text: 'time (s)', color: '#000', font: { size: 22, weight: 'bold', lineHeight: 1 }, padding: 0 }
        },
        y: {
          min: 0, max: p.ymax,
          afterFit: function (s) { s.width = YW; },
          border: { color: '#000', width: 2.5 },
          grid: { drawOnChartArea: false, tickLength: 6, color: '#000', lineWidth: 2.5 },
          ticks: { stepSize: p.ystep, includeBounds: false, padding: 3, color: '#000', font: { size: 18, weight: 'bold' } },
          title: { display: true, text: '\u2003RU', color: '#000', font: { size: 20, weight: 'bold', lineHeight: 1 }, padding: 0 }
        }
      }
    },
    plugins: [framePlugin]
  });
});
</script>
</body>
</html>
